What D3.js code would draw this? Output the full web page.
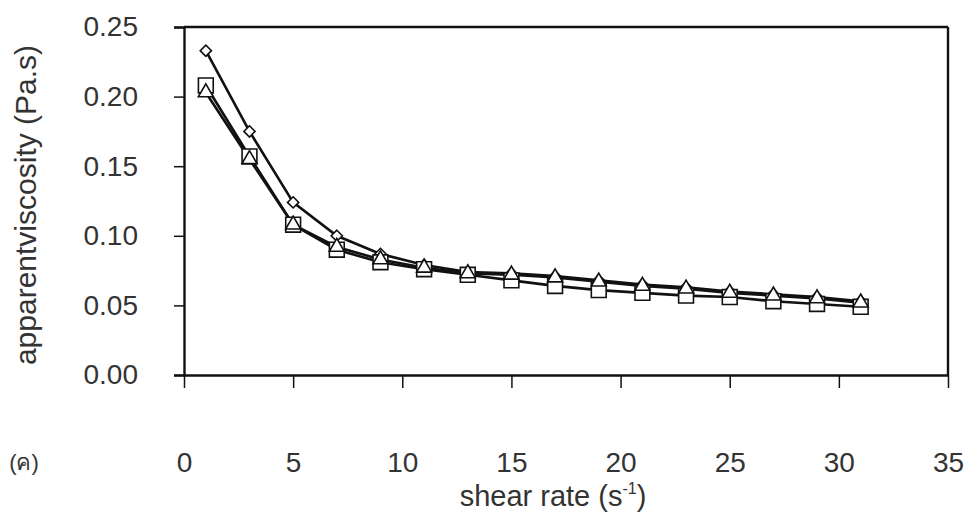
<!DOCTYPE html>
<html>
<head>
<meta charset="utf-8">
<script src="https://cdn.jsdelivr.net/npm/d3@7"></script>
<style>
  html, body { margin: 0; padding: 0; background: #fff; }
  svg { display: block; font-family: "Liberation Sans", Arial, sans-serif; }
</style>
</head>
<body>
<svg id="chart" width="969" height="518"></svg>
<script>
// ---- data ----
const shearRate = [1, 3, 5, 7, 9, 11, 13, 15, 17, 19, 21, 23, 25, 27, 29, 31];
const diamondSeries = [0.233, 0.175, 0.124, 0.100, 0.087, 0.079, 0.074, 0.073, 0.071, 0.068, 0.065, 0.063, 0.060, 0.058, 0.056, 0.053];
const squareSeries  = [0.208, 0.157, 0.108, 0.090, 0.081, 0.076, 0.072, 0.068, 0.064, 0.061, 0.059, 0.057, 0.056, 0.053, 0.051, 0.049];
const triangleSeries= [0.203, 0.155, 0.108, 0.092, 0.083, 0.077, 0.073, 0.072, 0.070, 0.067, 0.064, 0.062, 0.059, 0.057, 0.055, 0.052];
const xTicks = [0, 5, 10, 15, 20, 25, 30, 35];
const yTicks = [0.00, 0.05, 0.10, 0.15, 0.20, 0.25];

const svg = d3.select("#chart");
const L = 184, R = 948, T = 27, B = 375;
const x = d3.scaleLinear().domain([0, 35]).range([L, R]);
const y = d3.scaleLinear().domain([0, 0.25]).range([B, T]);
const FONT = "Liberation Sans, Arial, sans-serif";

// frame (top & right)
svg.append("line").attr("x1", L).attr("x2", R).attr("y1", T).attr("y2", T)
  .attr("stroke", "#111").attr("stroke-width", 2.4);
svg.append("line").attr("x1", R).attr("x2", R).attr("y1", T).attr("y2", B)
  .attr("stroke", "#111").attr("stroke-width", 2.4);

// y axis
const yAxis = d3.axisLeft(y).tickValues(yTicks).tickFormat(d3.format(".2f")).tickSize(10).tickPadding(36);
const gy = svg.append("g").attr("transform", `translate(${L},0)`).call(yAxis);
gy.select(".domain").attr("stroke", "#111").attr("stroke-width", 2.4);
gy.selectAll(".tick line").attr("stroke", "#111").attr("stroke-width", 1.5);
gy.selectAll(".tick text").attr("font-size", 28).attr("fill", "#333").attr("font-family", FONT);

// x axis
const xAxis = d3.axisBottom(x).tickValues(xTicks).tickFormat(d3.format("d")).tickSize(13).tickSizeOuter(0).tickPadding(64);
const gx = svg.append("g").attr("transform", `translate(0,${B})`).call(xAxis);
gx.select(".domain").attr("stroke", "#111").attr("stroke-width", 2.4);
gx.selectAll(".tick line").attr("stroke", "#111").attr("stroke-width", 1.5);
gx.selectAll(".tick text").attr("font-size", 28).attr("fill", "#333").attr("font-family", FONT);

// axis titles
svg.append("text")
  .attr("transform", `translate(36,${(T + B) / 2 + 4}) rotate(-90)`)
  .attr("text-anchor", "middle").attr("font-size", 30).attr("fill", "#333")
  .text("apparentviscosity (Pa.s)");

const xt = svg.append("text").attr("x", 553).attr("y", 506)
  .attr("text-anchor", "middle").attr("font-size", 29).attr("fill", "#333");
xt.append("tspan").text("shear rate (s");
xt.append("tspan").attr("font-size", 16).attr("dy", -12).text("-1");
xt.append("tspan").attr("dy", 12).text(")");

svg.append("text").attr("x", 24).attr("y", 470).attr("text-anchor", "middle")
  .attr("font-size", 22).attr("fill", "#333").text("(ค)");

// lines
const line = d3.line().x((d, i) => x(shearRate[i])).y(d => y(d));
[diamondSeries, squareSeries, triangleSeries].forEach(s => {
  svg.append("path").datum(s).attr("d", line).attr("fill", "none")
    .attr("stroke", "#111").attr("stroke-width", 2.6);
});

// markers
const mk = (s, type, size) => {
  svg.append("g").selectAll("path").data(s).join("path")
    .attr("transform", (d, i) => `translate(${x(shearRate[i])},${y(d)})`)
    .attr("d", d3.symbol().type(type).size(size))
    .attr("fill", "#fff").attr("stroke", "#111").attr("stroke-width", 1.6);
};
mk(diamondSeries, d3.symbolDiamond2, 80);
mk(squareSeries, d3.symbolSquare2, 280);
mk(triangleSeries, d3.symbolTriangle2, 160);
</script>
</body>
</html>
